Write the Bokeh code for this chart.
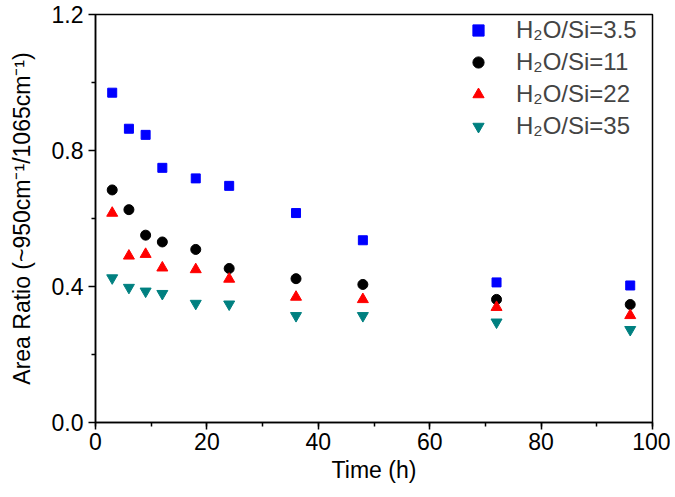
from bokeh.plotting import figure
from bokeh.models import FixedTicker, SingleIntervalTicker, NumeralTickFormatter, Range1d, Legend, LegendItem
from bokeh.embed import file_html
from bokeh.resources import INLINE

time_h = [3, 6, 9, 12, 18, 24, 36, 48, 72, 96]
ratio_3_5 = [0.970, 0.864, 0.846, 0.749, 0.718, 0.696, 0.616, 0.536, 0.412, 0.403]
ratio_11 = [0.684, 0.626, 0.551, 0.531, 0.509, 0.453, 0.423, 0.406, 0.362, 0.347]
ratio_22 = [0.616, 0.490, 0.495, 0.455, 0.450, 0.422, 0.369, 0.362, 0.339, 0.315]
ratio_35 = [0.425, 0.397, 0.386, 0.379, 0.350, 0.348, 0.314, 0.314, 0.295, 0.273]
labels = ["H\u2082O/Si=3.5", "H\u2082O/Si=11", "H\u2082O/Si=22", "H\u2082O/Si=35"]
y_ticks = [0.0, 0.4, 0.8, 1.2]
y_minor = [0.2, 0.6, 1.0]

FONT = "Liberation Sans"

p = figure(frame_width=557, frame_height=408, output_backend="svg", toolbar_location=None,
           x_range=Range1d(0, 100), y_range=Range1d(0, 1.2),
           min_border_left=95, min_border_right=18, min_border_top=14, min_border_bottom=70)
p.xgrid.visible = False
p.ygrid.visible = False
p.outline_line_color = "black"
p.outline_line_width = 1.5
p.outline_line_alpha = 1

r1 = p.scatter(time_h, ratio_3_5, marker="square", size=9, color="#0000FF")
r2 = p.scatter(time_h, ratio_11, marker="circle", size=10, color="black")
r3 = p.scatter(time_h, ratio_22, marker="triangle", size=11, color="#FF0000")
r4 = p.scatter(time_h, ratio_35, marker="inverted_triangle", size=11, color="#008080")

p.xaxis.ticker = SingleIntervalTicker(interval=20, num_minor_ticks=2)
p.yaxis.ticker = FixedTicker(ticks=y_ticks, minor_ticks=y_minor)
p.yaxis.formatter = NumeralTickFormatter(format="0.0")
p.xaxis.axis_label = "Time (h)"
p.yaxis.axis_label = "Area Ratio (~950cm\u207b\u00b9/1065cm\u207b\u00b9)"

for ax in (p.xaxis[0], p.yaxis[0]):
    ax.axis_line_width = 1.5
    ax.major_tick_line_width = 1.5
    ax.minor_tick_line_width = 1.5
    ax.major_tick_in = 0
    ax.major_tick_out = 7
    ax.minor_tick_in = 0
    ax.minor_tick_out = 4
    ax.major_label_text_font = FONT
    ax.major_label_text_font_size = "23px"
    ax.major_label_text_color = "black"
    ax.axis_label_text_font = FONT
    ax.axis_label_text_font_size = "23px"
    ax.axis_label_text_font_style = "normal"
    ax.axis_label_text_color = "black"

p.xaxis.major_label_standoff = 3
p.xaxis.axis_label_standoff = 4
p.yaxis.major_label_standoff = 5
p.yaxis.axis_label_standoff = 14

legend = Legend(items=[LegendItem(label=labels[0], renderers=[r1]),
                       LegendItem(label=labels[1], renderers=[r2]),
                       LegendItem(label=labels[2], renderers=[r3]),
                       LegendItem(label=labels[3], renderers=[r4])],
                location=(369, 282), padding=0, margin=0,
                glyph_width=28, glyph_height=28, label_height=24, spacing=4,
                label_standoff=24, label_text_font=FONT, label_text_font_size="24px",
                border_line_color=None, background_fill_alpha=0)
p.add_layout(legend)

open("out.html", "w").write(file_html(p, INLINE))
